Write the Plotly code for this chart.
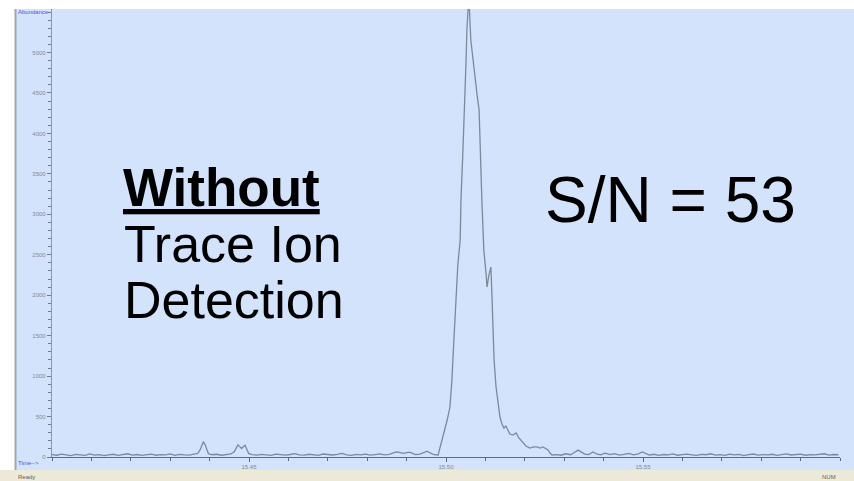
import plotly.graph_objects as go

# ---------------- data ----------------
time_min = [
    15.4000, 15.4012, 15.4024, 15.4036, 15.4048, 15.4060, 15.4072, 15.4084, 15.4096, 15.4108,
    15.4120, 15.4132, 15.4144, 15.4156, 15.4168, 15.4180, 15.4192, 15.4204, 15.4216, 15.4228,
    15.4240, 15.4252, 15.4264, 15.4276, 15.4288, 15.4300, 15.4312, 15.4324, 15.4336, 15.4348,
    15.4360, 15.4370, 15.4376, 15.4380, 15.4384, 15.4388, 15.4392, 15.4397, 15.4406, 15.4418,
    15.4430, 15.4442, 15.4454, 15.4462, 15.4467, 15.4472, 15.4477, 15.4481, 15.4486, 15.4490,
    15.4494, 15.4499, 15.4508, 15.4520, 15.4532, 15.4544, 15.4556, 15.4568, 15.4580, 15.4592,
    15.4604, 15.4616, 15.4628, 15.4640, 15.4652, 15.4664, 15.4676, 15.4688, 15.4700, 15.4712,
    15.4724, 15.4736, 15.4748, 15.4760, 15.4772, 15.4784, 15.4796, 15.4808, 15.4820, 15.4832,
    15.4844, 15.4856, 15.4866, 15.4874, 15.4882, 15.4890, 15.4898, 15.4906, 15.4914, 15.4922,
    15.4934, 15.4944, 15.4952, 15.4960, 15.4970,
    # main peak
    15.4980, 15.4987, 15.4995, 15.5003, 15.5010, 15.5015, 15.5020, 15.5025, 15.5030, 15.5036,
    15.5038, 15.5043, 15.5048, 15.5051, 15.5053, 15.5058, 15.5063, 15.5071, 15.5079, 15.5084,
    15.5086, 15.5089, 15.5091, 15.5094, 15.5096, 15.5102, 15.5104, 15.5109, 15.5114, 15.5117,
    15.5119, 15.5122, 15.5127, 15.5132, 15.5137, 15.5142, 15.5147, 15.5152, 15.5157, 15.5162,
    15.5170, 15.5178, 15.5185, 15.5195, 15.5203, 15.5213, 15.5223, 15.5231, 15.5239, 15.5246,
    15.5254, 15.5259, 15.5264, 15.5269,
    # tail baseline
    15.5280, 15.5292, 15.5304, 15.5316, 15.5326, 15.5335, 15.5344, 15.5352, 15.5362, 15.5373,
    15.5382, 15.5392, 15.5404, 15.5416, 15.5428, 15.5440, 15.5452, 15.5464, 15.5476, 15.5488,
    15.5498, 15.5506, 15.5516, 15.5528, 15.5540, 15.5552, 15.5564, 15.5576, 15.5588, 15.5600,
    15.5612, 15.5624, 15.5636, 15.5648, 15.5660, 15.5672, 15.5684, 15.5696, 15.5708, 15.5720,
    15.5732, 15.5744, 15.5756, 15.5768, 15.5780, 15.5792, 15.5804, 15.5816, 15.5828, 15.5840,
    15.5852, 15.5864, 15.5876, 15.5888, 15.5900, 15.5912, 15.5924, 15.5936, 15.5948, 15.5960,
    15.5972, 15.5984, 15.5996,
]

abundance = [
    30, 22, 35, 28, 18, 32, 26, 20, 38, 24,
    30, 16, 27, 34, 21, 29, 40, 23, 31, 19,
    28, 36, 22, 30, 26, 38, 21, 33, 27, 24,
    35, 45, 90, 150, 185, 160, 95, 40, 28, 34,
    22, 30, 38, 60, 110, 150, 125, 105, 130, 145,
    100, 45, 30, 24, 33, 27, 20, 36, 29, 24,
    31, 42, 26, 22, 34, 28, 19, 37, 30, 25,
    33, 44, 27, 21, 32, 26, 35, 23, 30, 38,
    27, 33, 50, 62, 58, 45, 52, 60, 48, 30,
    36, 55, 72, 50, 28,
    # main peak
    25, 148, 309, 457, 618, 952, 1446, 1941, 2373, 2682,
    3177, 3795, 4413, 4907, 5278, 5700, 5154, 4783, 4474, 4289,
    3918, 3547, 3177, 2806, 2559, 2250, 2101, 2250, 2348, 1941,
    1533, 1199, 865, 643, 494, 408, 358, 383, 334, 284,
    272, 297, 235, 173, 136, 111, 124, 124, 111, 124,
    99, 87, 49, 25,
    # tail baseline
    30, 22, 40, 28, 55, 85, 60, 35, 30, 62,
    38, 26, 48, 30, 42, 24, 33, 45, 27, 38,
    62, 45, 25, 34, 20, 31, 26, 38, 22, 29,
    35, 27, 19, 33, 28, 40, 24, 30, 21, 36,
    27, 32, 18, 29, 37, 23, 30, 26, 34, 20,
    31, 38, 25, 29, 35, 22, 30, 27, 33, 40,
    24, 31, 28,
]

y_tick_values = [0, 500, 1000, 1500, 2000, 2500, 3000, 3500, 4000, 4500, 5000]
y_tick_labels = [str(v) for v in y_tick_values]
x_tick_values = [15.45, 15.50, 15.55]
x_tick_labels = ["15.45", "15.50", "15.55"]

# ---------------- layout helpers ----------------
W, H = 854, 481
BG = "#d3e3fb"
TRACE = "#7c899a"


def px(x):
    return x / W


def py(y):
    return 1 - y / H


fig = go.Figure()
fig.add_trace(go.Scatter(
    x=time_min, y=abundance, mode="lines",
    line=dict(color=TRACE, width=1.3), showlegend=False, hoverinfo="skip",
))

fig.update_layout(
    width=W, height=H,
    margin=dict(l=0, r=0, t=0, b=0),
    paper_bgcolor=BG, plot_bgcolor=BG,
    font=dict(family="Liberation Sans, Arial, sans-serif"),
    xaxis=dict(
        domain=[px(52), px(840)], range=[15.40, 15.60],
        showgrid=False, zeroline=False, automargin=False,
        showline=True, linecolor="#5d6b7c", linewidth=1.2,
        tickmode="array", tickvals=x_tick_values, ticktext=x_tick_labels,
        ticks="outside", ticklen=4, tickcolor="#5d6b7c",
        tickfont=dict(size=6, color="#7f8898"),
        minor=dict(tick0=15.40, dtick=0.01, ticks="outside", ticklen=3, tickcolor="#5d6b7c"),
    ),
    yaxis=dict(
        domain=[py(457), py(9)], range=[0, 5538],
        showgrid=False, zeroline=False, automargin=False,
        showline=True, linecolor="#8c98a8", linewidth=1.2,
        tickmode="array", tickvals=y_tick_values, ticktext=y_tick_labels,
        ticks="outside", ticklen=4, tickcolor="#6f7c8c",
        tickfont=dict(size=6, color="#7f8898"),
        minor=dict(dtick=100, ticks="outside", ticklen=3, tickcolor="#6f7c8c"),
    ),
)

# window chrome: white strips, grey separator, status bar
fig.add_shape(type="rect", xref="paper", yref="paper", x0=0, x1=1, y0=py(9), y1=1,
              fillcolor="white", line_width=0, layer="above")
fig.add_shape(type="rect", xref="paper", yref="paper", x0=0, x1=px(15), y0=0, y1=1,
              fillcolor="white", line_width=0, layer="above")
fig.add_shape(type="line", xref="paper", yref="paper", x0=px(15.5), x1=px(15.5), y0=py(470), y1=py(9),
              line=dict(color="#9ea7b2", width=2), layer="above")
fig.add_shape(type="rect", xref="paper", yref="paper", x0=0, x1=1, y0=0, y1=py(470),
              fillcolor="#ece9d8", line_width=0, layer="above")

small = [
    dict(text="Abundance", x=px(16), y=py(12), color="#4a5ad0"),
    dict(text="Time-->", x=px(16), y=py(463), color="#4a5ad0"),
    dict(text="Ready", x=px(16), y=py(477), color="#606060"),
]
for s in small:
    fig.add_annotation(text=s["text"], x=s["x"], y=s["y"], xref="paper", yref="paper",
                       xanchor="left", yanchor="middle", showarrow=False,
                       font=dict(size=6, color=s["color"]))
fig.add_annotation(text="NUM", x=px(829), y=py(477), xref="paper", yref="paper",
                   xanchor="center", yanchor="middle", showarrow=False,
                   font=dict(size=6, color="#606060"))

# big text
big = [
    dict(text="<b><u>Without</u></b>", x=px(121), y=py(187), size=53),
    dict(text="Trace Ion", x=px(122), y=py(244), size=52),
    dict(text="Detection", x=px(122), y=py(300), size=52),
    dict(text="S/N = 53", x=px(543), y=py(200), size=64),
]
for b in big:
    fig.add_annotation(text=b["text"], x=b["x"], y=b["y"], xref="paper", yref="paper",
                       xanchor="left", yanchor="middle", showarrow=False,
                       font=dict(size=b["size"], color="black",
                                 family="Liberation Sans, Arial, sans-serif"))

fig.write_html("out.html")
